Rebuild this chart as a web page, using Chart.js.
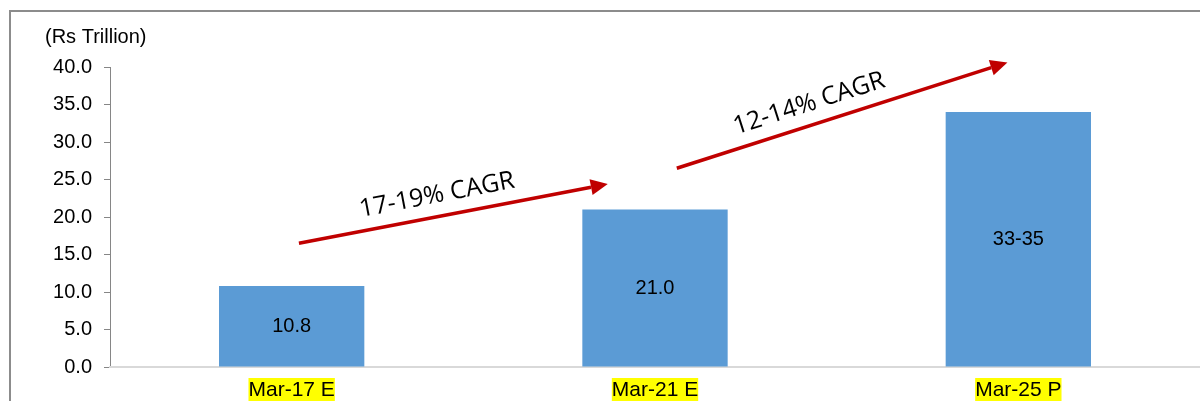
<!DOCTYPE html>
<html>
<head>
<meta charset="utf-8">
<script src="https://cdn.jsdelivr.net/npm/chart.js@4.4.1/dist/chart.umd.min.js"></script>
<style>
  html, body { margin: 0; padding: 0; background: #fff; overflow: hidden; }
  #wrap { position: relative; width: 1200px; height: 401px; }
  #frame { position: absolute; left: 9px; top: 10px; width: 1200px; height: 400px;
           border-left: 2px solid #8c8c8c; border-top: 2px solid #8c8c8c; }
  canvas { position: absolute; left: 0; top: 0; }
</style>
</head>
<body>
<div id="wrap">
  <div id="frame"></div>
  <canvas id="chart" width="1200" height="401"></canvas>
</div>
<script>
// data
const categories = ['Mar-17 E', 'Mar-21 E', 'Mar-25 P'];
const values = [10.8, 21.0, 34.0];
const valueLabels = ['10.8', '21.0', '33-35'];
const unitLabel = '(Rs Trillion)';

// growth arrows: [category index, value] at both ends, text placed along it
const arrows = [
  { from: [0.02, 16.5], to: [0.87, 24.4], text: '17-19% CAGR', t: 0.46 },
  { from: [1.06, 26.5], to: [1.97, 40.6], text: '12-14% CAGR', t: 0.42 }
];

const annotatePlugin = {
  id: 'annotate',
  afterDatasetsDraw(chart) {
    const ctx = chart.ctx;
    const xs = chart.scales.x, ys = chart.scales.y;
    const meta = chart.getDatasetMeta(0);

    // value labels in the middle of each bar
    ctx.save();
    ctx.font = '20px "Liberation Sans", Arial, sans-serif';
    ctx.fillStyle = '#000';
    ctx.textAlign = 'center';
    ctx.textBaseline = 'middle';
    meta.data.forEach((bar, i) => {
      ctx.fillText(valueLabels[i], bar.x, (bar.y + bar.base) / 2);
    });
    ctx.restore();

    // unit label above the y axis
    ctx.save();
    ctx.font = '20px "Liberation Sans", Arial, sans-serif';
    ctx.fillStyle = '#000';
    ctx.textAlign = 'left';
    ctx.textBaseline = 'middle';
    ctx.fillText(unitLabel, 45, 37);
    ctx.restore();

    // arrows with rotated text
    arrows.forEach(a => {
      const x1 = xs.getPixelForValue(a.from[0]), y1 = ys.getPixelForValue(a.from[1]);
      const x2 = xs.getPixelForValue(a.to[0]), y2 = ys.getPixelForValue(a.to[1]);
      const ang = Math.atan2(y2 - y1, x2 - x1);
      const head = 17, hw = 8;
      ctx.save();
      ctx.strokeStyle = '#c00000';
      ctx.fillStyle = '#c00000';
      ctx.lineWidth = 3.5;
      ctx.beginPath();
      ctx.moveTo(x1, y1);
      ctx.lineTo(x2 - head * Math.cos(ang), y2 - head * Math.sin(ang));
      ctx.stroke();
      ctx.translate(x2, y2);
      ctx.rotate(ang);
      ctx.beginPath();
      ctx.moveTo(0, 0);
      ctx.lineTo(-head, -hw);
      ctx.lineTo(-head, hw);
      ctx.closePath();
      ctx.fill();
      ctx.restore();

      const mx = x1 + (x2 - x1) * a.t, my = y1 + (y2 - y1) * a.t;
      ctx.save();
      ctx.translate(mx, my);
      ctx.rotate(ang);
      ctx.font = '25px "Open Sans", "Noto Sans", sans-serif';
      ctx.fillStyle = '#000';
      ctx.textAlign = 'center';
      ctx.textBaseline = 'alphabetic';
      ctx.fillText(a.text, 0, -14);
      ctx.restore();
    });
  }
};

new Chart(document.getElementById('chart'), {
  type: 'bar',
  data: {
    labels: categories,
    datasets: [{
      data: values,
      backgroundColor: '#5b9bd5',
      barPercentage: 0.4,
      categoryPercentage: 1.0
    }]
  },
  options: {
    responsive: false,
    animation: false,
    layout: { padding: { top: 67, right: -4, left: 0, bottom: 0 } },
    plugins: { legend: { display: false }, tooltip: { enabled: false } },
    scales: {
      y: {
        min: 0,
        max: 40,
        afterFit(scale) { scale.width = 110; },
        border: { color: '#868686', width: 1 },
        grid: { drawOnChartArea: false, drawTicks: true, tickLength: 6, color: '#868686' },
        ticks: {
          stepSize: 5,
          padding: 12,
          color: '#000',
          font: { family: '"Liberation Sans", Arial, sans-serif', size: 20 },
          callback: v => v.toFixed(1)
        }
      },
      x: {
        afterFit(scale) { scale.height = 34; },
        border: { color: '#d9d9d9', width: 2 },
        grid: { display: false },
        ticks: {
          padding: 3,
          color: '#000',
          font: { family: '"Liberation Sans", Arial, sans-serif', size: 21 },
          showLabelBackdrop: true,
          backdropColor: '#ffff00',
          backdropPadding: { top: 0, bottom: 0, left: 0, right: 0 }
        }
      }
    }
  },
  plugins: [annotatePlugin]
});
</script>
</body>
</html>
